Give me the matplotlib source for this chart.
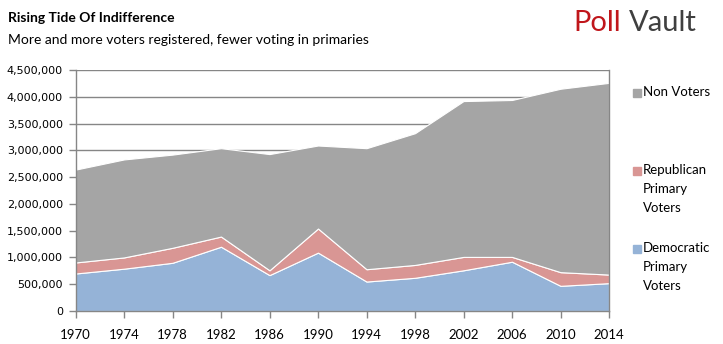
import matplotlib
matplotlib.use("Agg")
import matplotlib.pyplot as plt
import numpy as np
from matplotlib.ticker import FuncFormatter, MultipleLocator

years = [1970, 1974, 1978, 1982, 1986, 1990, 1994, 1998, 2002, 2006, 2010, 2014]
democratic = [700000, 790000, 900000, 1200000, 670000, 1090000, 550000, 620000, 760000, 920000, 470000, 520000]
republican = [206000, 210000, 280000, 190000, 90000, 450000, 230000, 240000, 250000, 90000, 255000, 160000]
non_voters = [1734000, 1830000, 1740000, 1650000, 2170000, 1550000, 2260000, 2460000, 2910000, 2930000, 3425000, 3580000]
series_names = ["Democratic\nPrimary\nVoters", "Republican\nPrimary\nVoters", "Non Voters"]
colors = ["#95B3D7", "#D99694", "#A5A5A5"]

FONT = "Lato"
fig = plt.figure(figsize=(7.23, 3.44), dpi=100)
W, H = 723, 344
ax = fig.add_axes([75.5 / W, (H - 311) / H, (609 - 75.5) / W, (311 - 70) / H])

ax.stackplot(years, democratic, republican, non_voters, colors=colors,
             edgecolor="white", linewidth=0.8, zorder=2)

ax.set_xlim(1970, 2014)
ax.set_ylim(0, 4500000)
ax.yaxis.set_major_locator(MultipleLocator(500000))
ax.yaxis.set_major_formatter(FuncFormatter(lambda v, p: f"{int(v):,}"))
ax.set_xticks(years)
ax.grid(axis="y", color="#868686", linewidth=1.0, zorder=1)
ax.set_axisbelow(True)
ax.spines["top"].set_visible(False)
for s in ["left", "right", "bottom"]:
    ax.spines[s].set_color("#868686")
    ax.spines[s].set_linewidth(1.0)
ax.tick_params(axis="both", colors="#868686", length=5, width=1.0)
ax.tick_params(axis="y", labelcolor="black", labelsize=8, pad=4)
ax.tick_params(axis="x", labelcolor="black", pad=8)
for lab in ax.get_xticklabels():
    lab.set_family(FONT)
    lab.set_fontsize(9.5)
for lab in ax.get_yticklabels():
    lab.set_family("DejaVu Sans")

# Titles
fig.text(8 / W, 1 - 18 / H, "Rising Tide Of Indifference", fontsize=10, fontweight="bold",
         family=FONT, va="center", ha="left")
fig.text(8 / W, 1 - 40 / H, "More and more voters registered, fewer voting in primaries",
         fontsize=10, family=FONT, va="center", ha="left")
fig.text(573 / W, 1 - 23 / H, "Poll", fontsize=21, color="#C0161B",
         family=FONT, va="center", ha="left")
fig.text(629 / W, 1 - 23 / H, "Vault", fontsize=21, color="#3F3F3F",
         family=FONT, va="center", ha="left")

# Legend
leg_y = [93, 171, 249]
order = [2, 1, 0]
for yy, i in zip(leg_y, order):
    fig.patches.append(plt.Rectangle((633 / W, 1 - (yy + 4) / H), 8 / W, 8 / H,
                                     transform=fig.transFigure, color=colors[i]))
    fig.text(643 / W, 1 - (yy - 7) / H, series_names[i], fontsize=9.5,
             family=FONT, va="top", ha="left", linespacing=1.7)

fig.savefig("out.png", dpi=100)
